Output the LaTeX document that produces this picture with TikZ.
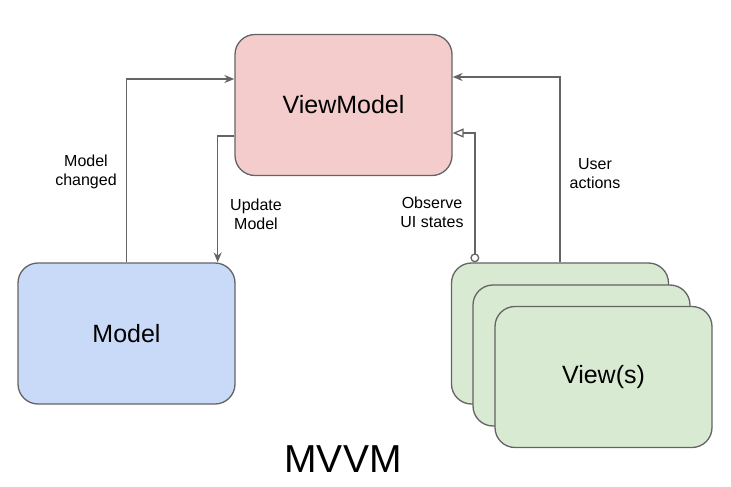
\documentclass[tikz,border=0pt]{standalone}
\usepackage{fontspec}
\setmainfont{Liberation Sans}
\usepackage{xcolor}
\usepackage{tikz}
\usetikzlibrary{arrows.meta,positioning}
\tikzset{
  font={\fontsize{16pt}{19pt}\selectfont}
}
\definecolor{colorR}{RGB}{244,204,204}
\definecolor{colorB}{RGB}{201,218,248}
\definecolor{colorG}{RGB}{217,234,211}
\definecolor{colorL}{RGB}{100,100,100}
\tikzstyle{line}=[draw=colorL, -{Stealth[length=10pt,width=8pt]}, line width=1.3pt]
\tikzstyle{block}=[rectangle, rounded corners=20pt, draw=colorL, line width=1.3pt, minimum width=217pt, minimum height=141pt, inner sep=0pt, font={\fontsize{25pt}{29pt}\selectfont}]
\tikzstyle{lab}=[align=center]

\begin{document}
\begin{tikzpicture}[x=1pt, y=-1pt]
\useasboundingbox (0,0) rectangle (731,487);

\node[block,fill=colorR] (vm) at (343.5,105) {ViewModel};
\node[block,fill=colorB] (mdl) at (126.5,333.5) {Model};
\node[block,fill=colorG] (view_a) at (560,333.5) {};
\node[block,fill=colorG,on grid,below right=22pt and 21.5pt of view_a] (view_b) {};
\node[block,fill=colorG,on grid,below right=21.5pt and 22pt of view_b] (view_c) {View(s)};

\draw[line] (mdl.north) |- ([yshift=26pt]vm.west);
\draw[line] ([yshift=-31pt]vm.west) -| ([xshift=-18pt]mdl.north east);
\draw[line,{Circle[length=9pt,width=9pt,fill=white]}-{Triangle[open,length=11pt,width=9pt]}] ([xshift=24pt]view_a.north west) |- ([yshift=-28pt]vm.east);
\draw[line] (view_a.north) |- ([yshift=28pt]vm.east);

%%% Labels
\node[lab] (lab_changed) at (86,172) {Model\\changed};
\node[lab] (lab_update) at (256,214) {Update\\Model};
\node[lab] (lab_observe) at (432,212) {Observe\\UI states};
\node[lab] (lab_user) at (595,174) {User\\actions};

\node[font={\fontsize{39pt}{45pt}\selectfont}] (title) at (343,459) {MVVM};

\end{tikzpicture}
\end{document}
